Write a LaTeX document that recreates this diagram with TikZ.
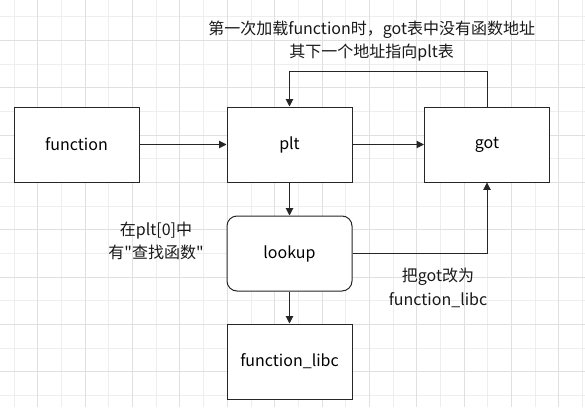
\documentclass[tikz,border=0pt]{standalone}
\usepackage{fontspec}
\setmainfont{Noto Sans CJK SC}[Ligatures=TeXOff]
\usetikzlibrary{arrows.meta}

\definecolor{gridlight}{RGB}{238,238,238}
\definecolor{griddark}{RGB}{224,224,224}
\definecolor{edgecol}{RGB}{38,38,38}

\tikzset{
  gridthin/.style={draw=gridlight, line width=0.75pt},
  gridthick/.style={draw=griddark, line width=0.75pt},
  blockbox/.style={draw=edgecol, fill=white, line width=0.75pt, minimum width=93.75pt, minimum height=56.25pt, inner sep=0pt},
  roundbox/.style={blockbox, rounded corners=7.5pt},
  arr/.style={draw=edgecol, line width=0.75pt, -{Triangle[length=5.5pt,width=5.5pt]}},
  note/.style={align=center, inner sep=0pt, text=black!90}
}

\begin{document}
\begin{tikzpicture}[x=0.75pt,y=0.75pt,yscale=-1,xscale=1,font=\fontsize{12pt}{17.5pt}\selectfont]
\useasboundingbox (0,0) rectangle (585,407);
\fill[white] (0,0) rectangle (585,407);

%Grid: background
\foreach \k in {0,2,...,24} \draw[gridthin] ({14.3+23.67*\k},0) -- ({14.3+23.67*\k},407);
\foreach \k in {0,2,...,16} \draw[gridthin] (0,{16.7+23.67*\k}) -- (585,{16.7+23.67*\k});
\foreach \k in {1,3,...,23} \draw[gridthick] ({14.3+23.67*\k},0) -- ({14.3+23.67*\k},407);
\foreach \k in {1,3,...,15} \draw[gridthick] (0,{16.7+23.67*\k}) -- (585,{16.7+23.67*\k});

%Shape: Rectangle
\node[blockbox] (func) at (76.5,144.5) {function};
%Shape: Rectangle
\node[blockbox] (plt) at (289.5,144.5) {plt};
%Shape: Rectangle
\node[blockbox] (got) at (487,144.5) {got};
%Shape: Rounded Rect
\node[roundbox] (lookup) at (289.5,253.5) {lookup};
%Shape: Rectangle
\node[blockbox] (libc) at (289.5,361.5) {function\_libc};

%Straight Lines
\draw[arr] (func) -- (plt);
\draw[arr] (plt) -- (got);
\draw[arr] (plt) -- (lookup);
\draw[arr] (lookup) -- (libc);
%Elbow Lines
\draw[arr] (lookup.east) -| (got.south);
\draw[arr] (got.north) -- ++(0,-34.7) -| (plt.north);

% Text Node
\node[note] (first) at (371.7,41) {第一次加载function时，got表中没有函数地址\\其下一个地址指向plt表};
% Text Node
\node[note] (inplt) at (156,241) {在plt[0]中\\有"查找函数"};
% Text Node
\node[note] (change) at (438,288) {把got改为\\function\_libc};

\end{tikzpicture}
\end{document}
